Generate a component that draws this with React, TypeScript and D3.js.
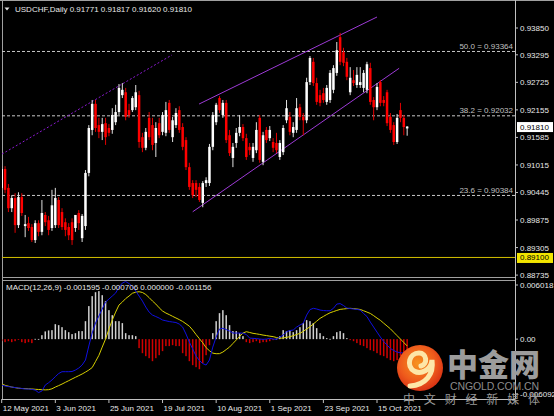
import React from "react";
import * as d3 from "d3";

// ---------- DATA ----------
const opens = [
  0.9054, 0.9093, 0.9054, 0.9012, 0.9033, 0.8977, 0.9035, 0.8975, 0.8981, 0.8973,
  0.8946, 0.8981, 0.8963, 0.8998, 0.8987, 0.8971, 0.8977, 0.9029, 0.9004, 0.8983,
  0.8973, 0.8983, 0.8971, 0.9002, 0.8950, 0.8975, 0.9085, 0.9174, 0.9228, 0.9184,
  0.9170, 0.9188, 0.9178, 0.9174, 0.9190, 0.9211, 0.9246, 0.9252, 0.9215, 0.9215,
  0.9221, 0.9246, 0.9159, 0.9137, 0.9199, 0.9184, 0.9147, 0.9188, 0.9170, 0.9168,
  0.9230, 0.9159, 0.9184, 0.9215, 0.9180, 0.9153, 0.9097, 0.9064, 0.9064, 0.9056,
  0.9023, 0.9064, 0.9064, 0.9139, 0.9190, 0.9240, 0.9205, 0.9230, 0.9163, 0.9116,
  0.9147, 0.9168, 0.9180, 0.9157, 0.9139, 0.9116, 0.9132, 0.9199, 0.9108, 0.9174,
  0.9157, 0.9149, 0.9147, 0.9118, 0.9128, 0.9194, 0.9201, 0.9168, 0.9174, 0.9221,
  0.9201, 0.9194, 0.9273, 0.9315, 0.9271, 0.9246, 0.9250, 0.9232, 0.9236, 0.9257,
  0.9292, 0.9366, 0.9335, 0.9315, 0.9252, 0.9277, 0.9267, 0.9267, 0.9261, 0.9257,
  0.9302, 0.9236, 0.9221, 0.9273, 0.9236, 0.9252, 0.9201, 0.9184, 0.9149, 0.9215,
  0.9199, 0.91771,
];
const highs = [
  0.9099, 0.9099, 0.9062, 0.9039, 0.9043, 0.9045, 0.9043, 0.8998, 0.8994, 0.8979,
  0.8987, 0.8987, 0.9029, 0.9004, 0.8996, 0.9050, 0.9054, 0.9035, 0.9012, 0.8991,
  0.8981, 0.8991, 0.8983, 0.9008, 0.9000, 0.9091, 0.9184, 0.9236, 0.9236, 0.9199,
  0.9199, 0.9199, 0.9186, 0.9219, 0.9226, 0.9269, 0.9271, 0.9261, 0.9228, 0.9244,
  0.9267, 0.9255, 0.9168, 0.9178, 0.9211, 0.9199, 0.9190, 0.9199, 0.9211, 0.9232,
  0.9236, 0.9201, 0.9219, 0.9223, 0.9188, 0.9159, 0.9106, 0.9070, 0.9070, 0.9064,
  0.9068, 0.9076, 0.9145, 0.9211, 0.9230, 0.9244, 0.9236, 0.9236, 0.9174, 0.9147,
  0.9178, 0.9205, 0.9186, 0.9166, 0.9147, 0.9147, 0.9190, 0.9205, 0.9170, 0.9180,
  0.9182, 0.9157, 0.9168, 0.9153, 0.9184, 0.9236, 0.9211, 0.9190, 0.9240, 0.9228,
  0.9209, 0.9282, 0.9327, 0.9323, 0.9282, 0.9257, 0.9261, 0.9267, 0.9298, 0.9308,
  0.9356, 0.9375, 0.9344, 0.9323, 0.9304, 0.9298, 0.9304, 0.9304, 0.9298, 0.9315,
  0.9313, 0.9242, 0.9271, 0.9277, 0.9244, 0.9257, 0.9209, 0.9190, 0.9207, 0.9230,
  0.9205, 0.91817,
];
const lows = [
  0.9029, 0.9043, 0.9004, 0.9004, 0.8961, 0.8971, 0.8996, 0.8952, 0.8965, 0.8942,
  0.8940, 0.8954, 0.8956, 0.8975, 0.8956, 0.8965, 0.8971, 0.8971, 0.8967, 0.8954,
  0.8946, 0.8936, 0.8963, 0.8967, 0.8942, 0.8967, 0.9078, 0.9163, 0.9170, 0.9157,
  0.9153, 0.9143, 0.9161, 0.9166, 0.9184, 0.9205, 0.9240, 0.9194, 0.9199, 0.9211,
  0.9215, 0.9137, 0.9128, 0.9132, 0.9153, 0.9132, 0.9118, 0.9157, 0.9163, 0.9161,
  0.9168, 0.9149, 0.9178, 0.9168, 0.9132, 0.9091, 0.9050, 0.9033, 0.9035, 0.9025,
  0.9014, 0.9056, 0.9058, 0.9132, 0.9184, 0.9209, 0.9199, 0.9147, 0.9120, 0.9097,
  0.9137, 0.9161, 0.9151, 0.9112, 0.9122, 0.9108, 0.9126, 0.9106, 0.9101, 0.9147,
  0.9151, 0.9128, 0.9126, 0.9112, 0.9122, 0.9188, 0.9163, 0.9159, 0.9168, 0.9194,
  0.9163, 0.9188, 0.9267, 0.9265, 0.9226, 0.9223, 0.9230, 0.9226, 0.9230, 0.9250,
  0.9286, 0.9308, 0.9306, 0.9277, 0.9246, 0.9265, 0.9261, 0.9261, 0.9252, 0.9250,
  0.9226, 0.9194, 0.9215, 0.9223, 0.9223, 0.9182, 0.9168, 0.9143, 0.9145, 0.9190,
  0.9163, 0.91620,
];
const closes = [
  0.9093, 0.9050, 0.9012, 0.9033, 0.8977, 0.9035, 0.9002, 0.8979, 0.8971, 0.8946,
  0.8981, 0.8963, 0.9002, 0.8983, 0.8967, 0.9018, 0.9033, 0.8977, 0.8973, 0.8967,
  0.8956, 0.8946, 0.8998, 0.8981, 0.8996, 0.9085, 0.9178, 0.9228, 0.9178, 0.9170,
  0.9186, 0.9159, 0.9168, 0.9205, 0.9211, 0.9261, 0.9257, 0.9201, 0.9205, 0.9240,
  0.9252, 0.9149, 0.9137, 0.9170, 0.9159, 0.9143, 0.9178, 0.9163, 0.9205, 0.9215,
  0.9174, 0.9194, 0.9209, 0.9174, 0.9139, 0.9097, 0.9056, 0.9039, 0.9050, 0.9029,
  0.9064, 0.9070, 0.9139, 0.9205, 0.9226, 0.9215, 0.9230, 0.9153, 0.9126, 0.9139,
  0.9168, 0.9180, 0.9157, 0.9118, 0.9132, 0.9139, 0.9174, 0.9112, 0.9163, 0.9153,
  0.9174, 0.9137, 0.9132, 0.9147, 0.9178, 0.9219, 0.9170, 0.9180, 0.9219, 0.9201,
  0.9194, 0.9273, 0.9323, 0.9271, 0.9232, 0.9230, 0.9236, 0.9261, 0.9292, 0.9302,
  0.9339, 0.9315, 0.9313, 0.9284, 0.9282, 0.9271, 0.9288, 0.9273, 0.9292, 0.9310,
  0.9232, 0.9221, 0.9263, 0.9230, 0.9230, 0.9188, 0.9174, 0.9149, 0.9199, 0.9199,
  0.9180, 0.91810,
];

const macdMain = [
  -0.00475, -0.00485, -0.00491, -0.00496, -0.00501, -0.00506, -0.00511, -0.00516, -0.00516, -0.0052,
  -0.00527, -0.00553, -0.00537, -0.00475, -0.00451, -0.00423, -0.00388, -0.00356, -0.00337, -0.00337,
  -0.00337, -0.00335, -0.0032, -0.00299, -0.00268, -0.00216, -0.00071, 0.00063, 0.00167, 0.00239,
  0.00312, 0.00384, 0.00415, 0.00446, 0.00477, 0.00538, 0.00581, 0.00596, 0.00575, 0.00544,
  0.00498, 0.00446, 0.00394, 0.00332, 0.0028, 0.00249, 0.00234, 0.00218, 0.00198, 0.0019,
  0.00182, 0.00177, 0.00172, 0.00156, 0.00125, 0.00053, -0.0003, -0.00102, -0.00175, -0.00221,
  -0.00253, -0.00268, -0.00216, -0.00082, 0.00022, 0.00105, 0.00112, 0.00099, 0.00084, 0.00063,
  0.00063, 0.00063, 0.00063, 0.00048, 0.00011, 0.00008, 0.00006, 0.00001, -0.00002, 0.00001,
  0.00008, 0.00001, -0.00002, 0.00022, 0.00042, 0.00077, 0.00089, 0.00094, 0.00125, 0.00146,
  0.00164, 0.00249, 0.00306, 0.00319, 0.00312, 0.00301, 0.00296, 0.00294, 0.00294, 0.00319,
  0.00363, 0.00368, 0.00348, 0.00322, 0.00317, 0.00312, 0.00308, 0.00301, 0.00265, 0.00234,
  0.00177, 0.00125, 0.00073, 0.00022, -0.00025, -0.00061, -0.00097, -0.00118, -0.00134, -0.00141,
  -0.00144, -0.001595,
];
const macdSignal = [
  -0.00463, -0.00478, -0.00487, -0.00496, -0.00502, -0.00508, -0.00511, -0.00512, -0.00514, -0.00516,
  -0.00519, -0.00521, -0.00523, -0.00525, -0.00523, -0.00514, -0.00496, -0.00481, -0.00465, -0.00447,
  -0.0043, -0.00412, -0.00395, -0.00378, -0.00361, -0.00341, -0.0032, -0.00294, -0.00232, -0.00168,
  -0.00082, 0.00001, 0.00105, 0.00198, 0.0028, 0.00353, 0.00384, 0.0042, 0.00446, 0.00475,
  0.00486, 0.00491, 0.00483, 0.00462, 0.0043, 0.00394, 0.00363, 0.00324, 0.00291, 0.0027,
  0.00254, 0.00236, 0.00219, 0.00202, 0.00183, 0.00159, 0.00134, 0.00094, 0.00048, 0.00005,
  -0.00038, -0.00088, -0.0012, -0.00145, -0.00151, -0.0015, -0.00134, -0.00108, -0.00082, -0.00045,
  -0.00009, 0.00028, 0.00063, 0.00077, 0.00069, 0.0006, 0.00055, 0.00049, 0.00042, 0.00037,
  0.00031, 0.00026, 0.00017, 0.00009, 0.00012, 0.00019, 0.00025, 0.00036, 0.00048, 0.0006,
  0.00081, 0.00105, 0.00128, 0.00157, 0.00186, 0.00215, 0.00235, 0.00255, 0.00273, 0.00285,
  0.00297, 0.00308, 0.00312, 0.00316, 0.00319, 0.00316, 0.00312, 0.00307, 0.00294, 0.0028,
  0.00266, 0.00243, 0.00218, 0.00195, 0.00165, 0.00136, 0.00107, 0.00071, 0.00036, 0.00001,
  -0.00035, -0.000706,
];
const macdHist = [
  -0.00021, -0.00031, -0.00021, -0.00031, -0.00021, -0.00005, -0.00031, -0.00041, -0.00031, -0.00041,
  0.00003, 0.00002, 0.00041, 0.0008, 0.0009, 0.00093, 0.00155, 0.00145, 0.00124, 0.00093,
  0.00072, 0.00052, 0.00062, 0.00083, 0.00083, 0.00186, 0.00342, 0.00445, 0.00486, 0.00497,
  0.00455, 0.00393, 0.003, 0.00248, 0.00186, 0.00186, 0.00166, 0.00062, 0.00041, 0.00041,
  0.00031, -0.00093, -0.00145, -0.00176, -0.00197, -0.00228, -0.00197, -0.00166, -0.00124, -0.00072,
  -0.00072, -0.00062, -0.00072, -0.00072, -0.00145, -0.00176, -0.00228, -0.00269, -0.0029, -0.00311,
  -0.00248, -0.00166, -0.00062, 0.00062, 0.00186, 0.00269, 0.003, 0.00248, 0.00145, 0.00083,
  0.00083, 0.00062, 0.00031, -0.00031, -0.00041, -0.00031, -0.00021, -0.00041, -0.00031, -0.00031,
  -0.00021, -0.0001, 0.00005, 0.00031, 0.00093, 0.00083, 0.00093, 0.00072, 0.00093, 0.00124,
  0.00166, 0.00197, 0.00186, 0.00166, 0.00114, 0.00062, 0.00031, 0.0001, 0.00003, 0.00031,
  0.00072, 0.00083, 0.00062, 0.0001, -0.0001, -0.00021, -0.00041, -0.00062, -0.00072, -0.00093,
  -0.00114, -0.00124, -0.00145, -0.00166, -0.00176, -0.00197, -0.00217, -0.00228, -0.00217, -0.00176,
  -0.00145, -0.001156,
];

const priceTicks = [0.9385, 0.93295, 0.92725, 0.92155, 0.91585, 0.91015, 0.90445, 0.89875, 0.89305, 0.88735];
const macdTickValues = [0.006018, 0, -0.006092];
const macdTickLabels = ["0.006018", "0.00", "-0.006092"];
const tickIndex = [0, 16, 32, 48, 64, 80, 96, 112];
const tickLabels = ["12 May 2021", "3 Jun 2021", "25 Jun 2021", "19 Jul 2021", "10 Aug 2021", "1 Sep 2021", "23 Sep 2021", "15 Oct 2021"];
const fibNames = ["50.0", "38.2", "23.6"];
const fibValues = [0.93364, 0.92032, 0.90384];
const supportLevel = 0.891;
// trend lines: [barIndex, price]
const channelUpper = [[58.9, 0.92276], [112, 0.94078]];
const channelLower = [[57.0, 0.90046], [118.6, 0.93016]];
const dottedTrend = [[0.09, 0.91241], [50.8, 0.93291]];

const FONT = "'Liberation Sans', Arial, sans-serif";
const CJK = "'Noto Sans CJK SC', sans-serif";

export default function App() {
  const x = d3.scaleLinear().domain([0, 112]).range([1.7, 377]);
  const y = d3.scaleLinear().domain([0.88735, 0.9385]).range([275.1, 28]);
  const ym = d3.scaleLinear().domain([-0.006092, 0.006018]).range([398, 281]);
  const fmt = d3.format(".5f");

  const PL = 2, PR = 515;
  const bodyW = 2.5;

  const lineGen = d3
    .line<number>()
    .x((_, i) => x(i))
    .y((d) => ym(d))
    .curve(d3.curveLinear);

  const seg = (pts: number[][]) =>
    d3.line<number[]>().x((d) => x(d[0])).y((d) => y(d[1]))(pts) || "";

  const last = closes[closes.length - 1];

  return (
    <div style={{ position: "fixed", left: 0, top: 0, width: 554, height: 416, background: "#000" }}>
      <svg width={554} height={416} style={{ display: "block" }} fontFamily={FONT}>
        <defs>
          <clipPath id="mainClip">
            <rect x={PL} y={1} width={PR - PL} height={276} />
          </clipPath>
          <clipPath id="macdClip">
            <rect x={PL} y={281} width={PR - PL} height={117} />
          </clipPath>
          <radialGradient id="logoGrad" cx="45%" cy="40%" r="65%">
            <stop offset="0%" stopColor="#f7931e" />
            <stop offset="60%" stopColor="#ee5a1c" />
            <stop offset="100%" stopColor="#d42a12" />
          </radialGradient>
        </defs>
        <rect x={0} y={0} width={554} height={416} fill="#000" />

        {/* frame */}
        <line x1={0} x2={554} y1={0.5} y2={0.5} stroke="#a0a0a0" />
        <line x1={PL + 0.5} x2={PL + 0.5} y1={0} y2={399} stroke="#a0a0a0" />
        <line x1={PR + 0.5} x2={PR + 0.5} y1={0} y2={399} stroke="#c0c0c0" />
        <line x1={PL} x2={PR} y1={277.5} y2={277.5} stroke="#a0a0a0" />
        <line x1={PL} x2={PR} y1={280.5} y2={280.5} stroke="#a0a0a0" />
        <line x1={PL} x2={PR} y1={399.5} y2={399.5} stroke="#c0c0c0" />

        {/* main panel */}
        <g clipPath="url(#mainClip)">
          {fibValues.map((v, k) => (
            <g key={"fib" + k}>
              <line x1={PL} x2={PR} y1={y(v)} y2={y(v)} stroke="#c8c8c8" strokeDasharray="3,2" strokeWidth={1} />
              <text x={513} y={y(v) - 2.5} fill="#c0c0c0" fontSize={8} textAnchor="end">
                {fibNames[k] + " = " + fmt(v)}
              </text>
            </g>
          ))}
          <line x1={PL} x2={PR} y1={y(supportLevel)} y2={y(supportLevel)} stroke="#d4c000" strokeWidth={1} />
          <path d={seg(dottedTrend)} stroke="#8a1ad0" strokeWidth={1} strokeDasharray="2,2" fill="none" />
          <path d={seg(channelUpper)} stroke="#9d3ad6" strokeWidth={1} fill="none" />
          <path d={seg(channelLower)} stroke="#9d3ad6" strokeWidth={1} fill="none" />
          {closes.map((c, i) => {
            const o = opens[i];
            const up = c >= o;
            const col = up ? "#ffffff" : "#ff0000";
            const top = y(Math.max(o, c));
            const bot = y(Math.min(o, c));
            return (
              <g key={"c" + i}>
                <line x1={x(i)} x2={x(i)} y1={y(highs[i])} y2={y(lows[i])} stroke={up ? "#e0e0e0" : "#e00000"} strokeWidth={1} />
                <rect x={x(i) - bodyW / 2} y={top} width={bodyW} height={Math.max(1, bot - top)} fill={col} />
              </g>
            );
          })}
        </g>

        {/* MACD panel */}
        <g clipPath="url(#macdClip)">
          {macdHist.map((v, i) => {
            const y0 = ym(0);
            const y1 = ym(v);
            return (
              <rect
                key={"h" + i}
                x={x(i) - 0.75}
                y={Math.min(y0, y1)}
                width={1.5}
                height={Math.max(0.8, Math.abs(y1 - y0))}
                fill={v >= 0 ? "#d0d0d0" : "#d00000"}
              />
            );
          })}
          <path d={lineGen(macdSignal) || ""} stroke="#d8d000" strokeWidth={1} fill="none" />
          <path d={lineGen(macdMain) || ""} stroke="#1010e0" strokeWidth={1} fill="none" />
        </g>

        {/* header texts */}
        <path d="M4.5,7.5 L9.5,7.5 L7,10.5 Z" fill="#e0e0e0" />
        <text x={15} y={11.5} fill="#e8e8e8" fontSize={8}>
          {"USDCHF,Daily  " + [opens, highs, lows, closes].map((a) => fmt(a[a.length - 1])).join(" ")}
        </text>
        <text x={6} y={290} fill="#e8e8e8" fontSize={8}>
          {"MACD(12,26,9) " + [macdMain, macdSignal].map((a) => a[a.length - 1].toFixed(6)).join(" ") + " 0.000000 " + macdHist[macdHist.length - 1].toFixed(6)}
        </text>

        {/* price axis */}
        {priceTicks.map((v, k) => (
          <g key={"pt" + k}>
            <line x1={PR} x2={PR + 3} y1={y(v)} y2={y(v)} stroke="#c0c0c0" />
            <text x={520} y={y(v) + 3} fill="#e8e8e8" fontSize={8}>
              {fmt(v)}
            </text>
          </g>
        ))}
        <rect x={517} y={y(last) - 4.5} width={36} height={10} fill="#ffffff" />
        <text x={520} y={y(last) + 3} fill="#000" fontSize={8}>
          {fmt(last)}
        </text>
        <rect x={517} y={y(supportLevel) - 4.5} width={36} height={10} fill="#f2e400" />
        <text x={520} y={y(supportLevel) + 3} fill="#000" fontSize={8}>
          {fmt(supportLevel)}
        </text>

        {/* MACD axis */}
        {macdTickValues.map((v, k) => {
          const yy = k === 0 ? ym(v) + 4 : k === 2 ? ym(v) - 4 : ym(v);
          return (
            <g key={"mt" + k}>
              <line x1={PR} x2={PR + 3} y1={yy} y2={yy} stroke="#c0c0c0" />
              <text x={520} y={yy + 3} fill="#e8e8e8" fontSize={8}>
                {macdTickLabels[k]}
              </text>
            </g>
          );
        })}

        {/* time axis */}
        {tickIndex.map((t, k) => (
          <g key={"tt" + k}>
            <line x1={x(t)} x2={x(t)} y1={399} y2={403} stroke="#c0c0c0" />
            <text x={x(t) + 1} y={411} fill="#e8e8e8" fontSize={8}>
              {tickLabels[k]}
            </text>
          </g>
        ))}

        {/* watermark logo */}
        <g>
          <circle cx={420} cy={368} r={23} fill="url(#logoGrad)" />
          <path
            d="M421,366 C428,364 427,353 419,353 C409,353 406,366 414,371 C421,375 431,370 432,360 C434,374 426,385 410,386"
            stroke="#fde6a8"
            strokeWidth={5}
            fill="none"
            strokeLinecap="round"
          />
          <text x={447} y={376} fill="#9c9c9c" fontSize={31} fontWeight={900} fontFamily={CJK}>
            中金网
          </text>
          <text x={450} y={390} fill="#8c8c8c" fontSize={10.5} fontFamily={FONT} textLength={89} lengthAdjust="spacing">
            CNGOLD.COM.CN
          </text>
          <text x={403} y={404} fill="#9a9a9a" fontSize={12} fontFamily={CJK} textLength={137} lengthAdjust="spacing">
            中文财经新媒体
          </text>
        </g>
      </svg>
    </div>
  );
}
